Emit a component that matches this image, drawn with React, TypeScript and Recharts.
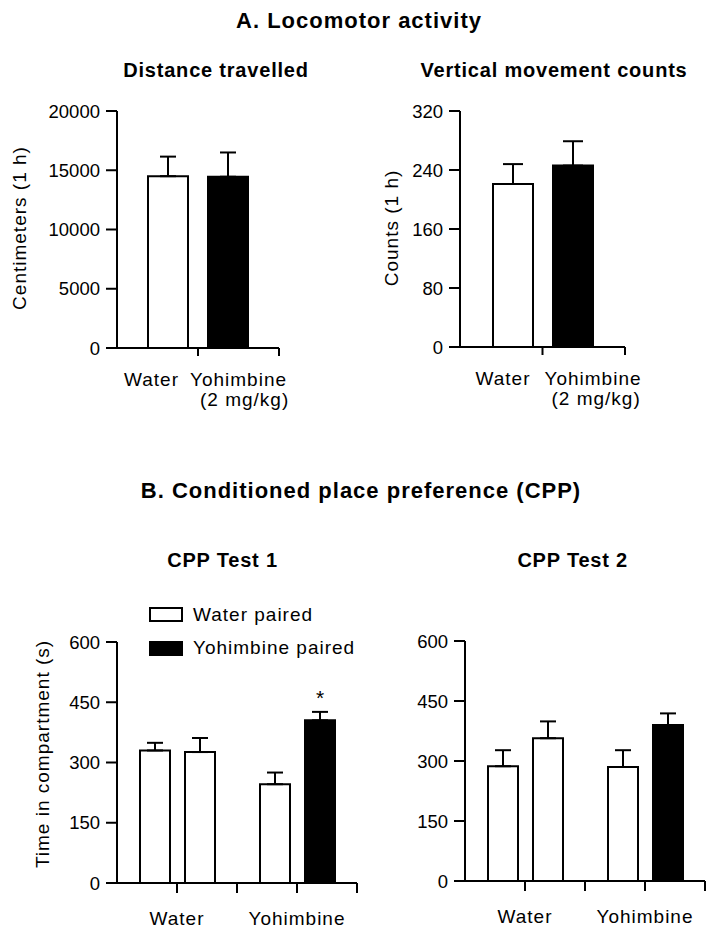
import React from 'react';
import { BarChart, Bar, XAxis, YAxis, ErrorBar, Cell, LabelList, Legend, Label } from 'recharts';

const FONT = '"Liberation Sans", Arial, Helvetica, sans-serif';

// ---------- Panel A: locomotor activity ----------
const locoGroups = ['Locomotor'];
const locoSeriesNames = ['Water', 'Yohimbine'];
const locoSeriesSub = ['', '(2 mg/kg)'];

const distanceWater = [14500];
const distanceWaterSem = [1650];
const distanceYoh = [14450];
const distanceYohSem = [2050];
const distanceTicks = [0, 5000, 10000, 15000, 20000];

const countsWater = [221];
const countsWaterSem = [27];
const countsYoh = [246];
const countsYohSem = [33];
const countsTicks = [0, 80, 160, 240, 320];

// ---------- Panel B: conditioned place preference ----------
const cppGroups = ['Water', 'Yohimbine'];
const cppSeriesNames = ['Water paired', 'Yohimbine paired'];

const test1WaterPaired = [330, 246];
const test1WaterPairedSem = [19, 29];
const test1YohPaired = [326, 405];
const test1YohPairedSem = [35, 21];
const test1Sig = ['', '*'];

const test2WaterPaired = [287, 285];
const test2WaterPairedSem = [40, 42];
const test2YohPaired = [357, 390];
const test2YohPairedSem = [42, 29];
const test2Sig = ['', ''];

const cppTicks = [0, 150, 300, 450, 600];

// styles (kept separate from data)
const yohPairedFillByGroup = ['#ffffff', '#000000'];
const legendFills = ['#ffffff', '#000000'];

const buildLoco = (w: number[], ws: number[], y: number[], ys: number[]) =>
  locoGroups.map((g, i) => ({
    group: g,
    water: w[i],
    waterErr: [0, ws[i]],
    yoh: y[i],
    yohErr: [0, ys[i]],
  }));

const buildCpp = (wp: number[], wps: number[], yp: number[], yps: number[], sig: string[]) =>
  cppGroups.map((g, i) => ({
    group: g,
    wp: wp[i],
    wpErr: [0, wps[i]],
    yp: yp[i],
    ypErr: [0, yps[i]],
    sig: sig[i],
  }));

const distanceData = buildLoco(distanceWater, distanceWaterSem, distanceYoh, distanceYohSem);
const countsData = buildLoco(countsWater, countsWaterSem, countsYoh, countsYohSem);
const test1Data = buildCpp(test1WaterPaired, test1WaterPairedSem, test1YohPaired, test1YohPairedSem, test1Sig);
const test2Data = buildCpp(test2WaterPaired, test2WaterPairedSem, test2YohPaired, test2YohPairedSem, test2Sig);

const textStyle: React.CSSProperties = { fontFamily: FONT, fontSize: 19, letterSpacing: 1, fill: '#000' };
const numTick = { fill: '#000', fontSize: 18.5, fontFamily: FONT };
const axisStroke = { stroke: '#000', strokeWidth: 2 };

const X_TICK_TOP = 8;
const X_TICK_BOTTOM = 10;

const makeLocoTick = (bandHalf: number, waterEnd: number, yohStart: number, subStart: number) => (props: any) => {
  const { x, y } = props;
  const axisY = y - X_TICK_TOP;
  return (
    <g>
      <line x1={x + bandHalf} x2={x + bandHalf} y1={axisY} y2={axisY + X_TICK_TOP} stroke="#000" strokeWidth={2} />
      <text x={x + waterEnd} y={axisY + 38} textAnchor="end" style={textStyle}>{locoSeriesNames[0]}</text>
      <text x={x + yohStart} y={axisY + 38} textAnchor="start" style={textStyle}>{locoSeriesNames[1]}</text>
      <text x={x + subStart} y={axisY + 58} textAnchor="start" style={textStyle}>{locoSeriesSub[1]}</text>
    </g>
  );
};

const cppTick = (props: any) => {
  const { x, y, payload } = props;
  const axisY = y - X_TICK_BOTTOM;
  return (
    <g>
      <line x1={x + 60} x2={x + 60} y1={axisY} y2={axisY + X_TICK_BOTTOM} stroke="#000" strokeWidth={2} />
      <text x={x} y={axisY + 42} textAnchor="middle" style={textStyle}>{payload.value}</text>
    </g>
  );
};

const yLabel = (text: string, cx: number, cy: number) => () => (
  <text
    x={cx}
    y={cy}
    transform={`rotate(-90, ${cx}, ${cy})`}
    textAnchor="middle"
    dominantBaseline="central"
    style={textStyle}
  >
    {text}
  </text>
);

const sigLabel = (props: any) => {
  const { x, y, width, value } = props;
  if (!value) return null;
  return (
    <text x={x + width / 2} y={y - 15} textAnchor="middle" style={{ fontFamily: FONT, fontSize: 21, fill: '#000' }}>
      {value}
    </text>
  );
};

const renderLegend = () => (
  <div style={{ fontFamily: FONT, fontSize: 19, letterSpacing: 1, color: '#000' }}>
    {cppSeriesNames.map((name, i) => (
      <div key={name} style={{ display: 'flex', alignItems: 'center', height: 33.5 }}>
        <div style={{ width: 30, height: 11, border: '2px solid #000', background: legendFills[i] }} />
        <span style={{ marginLeft: 10, lineHeight: '20px' }}>{name}</span>
      </div>
    ))}
  </div>
);

const Abs: React.FC<{ left: number; top: number; children: React.ReactNode }> = ({ left, top, children }) => (
  <div style={{ position: 'absolute', left, top }}>{children}</div>
);

export default function App() {
  return (
    <div style={{ position: 'absolute', left: 0, top: 0, width: 714, height: 935, background: '#fff', overflow: 'hidden' }}>
      {/* Distance travelled */}
      <Abs left={0} top={90}>
        <BarChart width={330} height={340} data={distanceData} margin={{ top: 21, right: 51, bottom: 0, left: 0 }} barSize={40} barGap={20}>
          <XAxis dataKey="group" height={82} tickSize={X_TICK_TOP} tickMargin={0} interval={0} axisLine={axisStroke} tickLine={axisStroke} tick={makeLocoTick(81, -19, -8, 2)} />
          <YAxis width={117} domain={[0, 20000]} ticks={distanceTicks} interval={0} tickSize={11} tickMargin={6} tick={numTick} axisLine={axisStroke} tickLine={axisStroke}>
            <Label content={yLabel('Centimeters (1 h)', 19, 138)} />
          </YAxis>
          <Bar dataKey="water" fill="#fff" stroke="#000" strokeWidth={2} isAnimationActive={false}>
            <ErrorBar dataKey="waterErr" direction="y" width={8} stroke="#000" strokeWidth={2} isAnimationActive={false} />
          </Bar>
          <Bar dataKey="yoh" fill="#000" stroke="#000" strokeWidth={2} isAnimationActive={false}>
            <ErrorBar dataKey="yohErr" direction="y" width={8} stroke="#000" strokeWidth={2} isAnimationActive={false} />
          </Bar>
        </BarChart>
      </Abs>

      {/* Vertical movement counts */}
      <Abs left={340} top={90}>
        <BarChart width={370} height={340} data={countsData} margin={{ top: 21, right: 85, bottom: 0, left: 0 }} barSize={40} barGap={20}>
          <XAxis dataKey="group" height={83} tickSize={X_TICK_TOP} tickMargin={0} interval={0} axisLine={axisStroke} tickLine={axisStroke} tick={makeLocoTick(82.5, -12, 2, 9)} />
          <YAxis width={120} domain={[0, 320]} ticks={countsTicks} interval={0} tickSize={11} tickMargin={6} tick={numTick} axisLine={axisStroke} tickLine={axisStroke}>
            <Label content={yLabel('Counts (1 h)', 51, 138)} />
          </YAxis>
          <Bar dataKey="water" fill="#fff" stroke="#000" strokeWidth={2} isAnimationActive={false}>
            <ErrorBar dataKey="waterErr" direction="y" width={10} stroke="#000" strokeWidth={2} isAnimationActive={false} />
          </Bar>
          <Bar dataKey="yoh" fill="#000" stroke="#000" strokeWidth={2} isAnimationActive={false}>
            <ErrorBar dataKey="yohErr" direction="y" width={10} stroke="#000" strokeWidth={2} isAnimationActive={false} />
          </Bar>
        </BarChart>
      </Abs>

      {/* CPP Test 1 */}
      <Abs left={0} top={590}>
        <BarChart width={380} height={345} data={test1Data} margin={{ top: 52, right: 23, bottom: 0, left: 0 }} barSize={30} barGap={15}>
          <XAxis dataKey="group" height={52} tickSize={X_TICK_BOTTOM} tickMargin={0} interval={0} axisLine={axisStroke} tickLine={axisStroke} tick={cppTick} />
          <YAxis width={117} domain={[0, 600]} ticks={cppTicks} interval={0} tickSize={11} tickMargin={6} tick={numTick} axisLine={axisStroke} tickLine={axisStroke}>
            <Label content={yLabel('Time in compartment (s)', 42, 164)} />
          </YAxis>
          <Legend layout="vertical" align="center" verticalAlign="middle" wrapperStyle={{ top: 8, left: 149, width: 230, height: 70 }} content={renderLegend} />
          <Bar dataKey="wp" name={cppSeriesNames[0]} fill="#fff" stroke="#000" strokeWidth={2} isAnimationActive={false}>
            <ErrorBar dataKey="wpErr" direction="y" width={8} stroke="#000" strokeWidth={2} isAnimationActive={false} />
          </Bar>
          <Bar dataKey="yp" name={cppSeriesNames[1]} fill="#000" stroke="#000" strokeWidth={2} isAnimationActive={false}>
            {test1Data.map((d, i) => (
              <Cell key={d.group} fill={yohPairedFillByGroup[i]} />
            ))}
            <ErrorBar dataKey="ypErr" direction="y" width={8} stroke="#000" strokeWidth={2} isAnimationActive={false} />
            <LabelList dataKey="sig" content={sigLabel} />
          </Bar>
        </BarChart>
      </Abs>

      {/* CPP Test 2 */}
      <Abs left={380} top={590}>
        <BarChart width={334} height={345} data={test2Data} margin={{ top: 51, right: 9, bottom: 0, left: 0 }} barSize={30} barGap={15}>
          <XAxis dataKey="group" height={54} tickSize={X_TICK_BOTTOM} tickMargin={0} interval={0} axisLine={axisStroke} tickLine={axisStroke} tick={cppTick} />
          <YAxis width={85} domain={[0, 600]} ticks={cppTicks} interval={0} tickSize={11} tickMargin={6} tick={numTick} axisLine={axisStroke} tickLine={axisStroke} />
          <Bar dataKey="wp" name={cppSeriesNames[0]} fill="#fff" stroke="#000" strokeWidth={2} isAnimationActive={false}>
            <ErrorBar dataKey="wpErr" direction="y" width={8} stroke="#000" strokeWidth={2} isAnimationActive={false} />
          </Bar>
          <Bar dataKey="yp" name={cppSeriesNames[1]} fill="#000" stroke="#000" strokeWidth={2} isAnimationActive={false}>
            {test2Data.map((d, i) => (
              <Cell key={d.group} fill={yohPairedFillByGroup[i]} />
            ))}
            <ErrorBar dataKey="ypErr" direction="y" width={8} stroke="#000" strokeWidth={2} isAnimationActive={false} />
            <LabelList dataKey="sig" content={sigLabel} />
          </Bar>
        </BarChart>
      </Abs>

      {/* Titles */}
      <svg width={714} height={935} style={{ position: 'absolute', left: 0, top: 0, pointerEvents: 'none' }}>
        <g style={{ fontFamily: FONT, fontWeight: 'bold', fill: '#000' }}>
          <text x={359} y={28} textAnchor="middle" style={{ fontSize: 22, letterSpacing: 1 }}>A. Locomotor activity</text>
          <text x={361} y={498} textAnchor="middle" style={{ fontSize: 22, letterSpacing: 1 }}>B. Conditioned place preference (CPP)</text>
          <text x={216} y={77} textAnchor="middle" style={{ fontSize: 20, letterSpacing: 0.8 }}>Distance travelled</text>
          <text x={554} y={77} textAnchor="middle" style={{ fontSize: 20, letterSpacing: 0.8 }}>Vertical movement counts</text>
          <text x={222.5} y={567} textAnchor="middle" style={{ fontSize: 20, letterSpacing: 0.8 }}>CPP Test 1</text>
          <text x={572.7} y={567} textAnchor="middle" style={{ fontSize: 20, letterSpacing: 0.8 }}>CPP Test 2</text>
        </g>
      </svg>
    </div>
  );
}
